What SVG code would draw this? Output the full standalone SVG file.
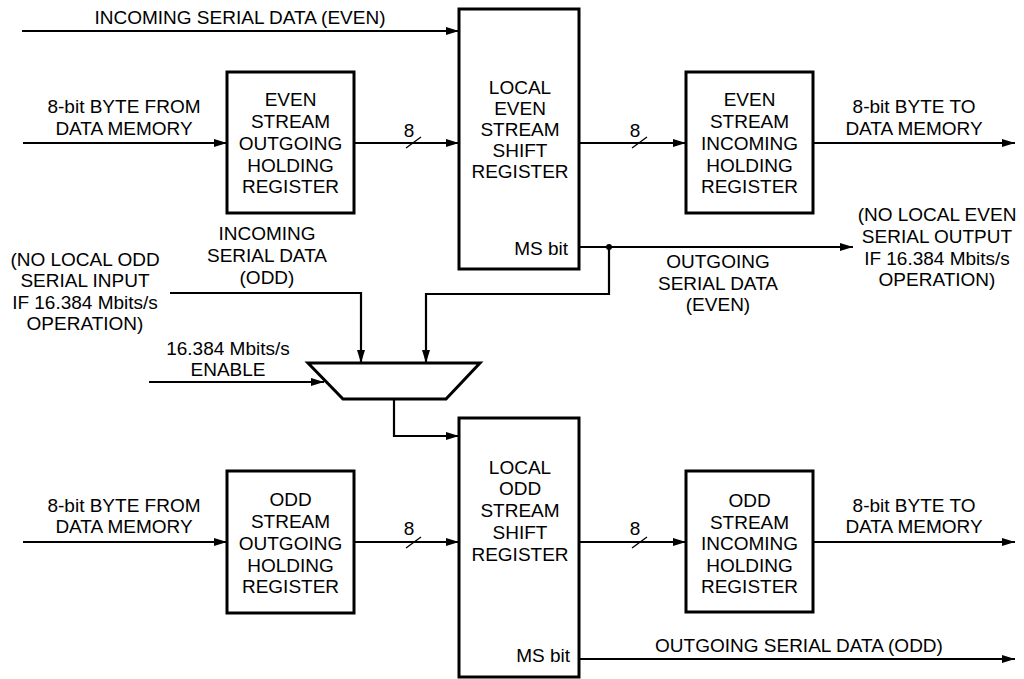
<svg xmlns="http://www.w3.org/2000/svg" width="1024" height="679" viewBox="0 0 1024 679">
<style>
text{font-family:"Liberation Sans",Arial,sans-serif;font-size:19px;fill:#000;text-anchor:middle}
.r{text-anchor:end}
.box{fill:#fff;stroke:#000;stroke-width:3}
.w{fill:none;stroke:#000;stroke-width:2.2}
.a{marker-end:url(#ah)}
.s{fill:none;stroke:#000;stroke-width:1.3}
</style>
<defs>
<marker id="ah" markerUnits="userSpaceOnUse" markerWidth="14" markerHeight="9" refX="13" refY="4" orient="auto">
<path d="M0,0 L13,4 L0,8 z" fill="#000"/>
</marker>
</defs>
<rect width="1024" height="679" fill="#fff"/>

<g id="connectors">
<path class="w a" d="M22,31 H459"/>
<path class="w a" d="M23,143 H227"/>
<path class="w a" d="M354,143 H459"/>
<path class="w a" d="M579,143 H686"/>
<path class="w a" d="M813,143 H1015"/>
<path class="w a" d="M579,247 H853"/>
<path class="w a" d="M609,247 V294 H426 V363"/>
<circle cx="609" cy="247" r="3" fill="#000"/>
<path class="w a" d="M170,293 H361 V363"/>
<path class="w a" d="M149,382 H324"/>
<path class="w a" d="M394,399 V436 H459"/>
<path class="w a" d="M23,542 H227"/>
<path class="w a" d="M354,542 H459"/>
<path class="w a" d="M579,542 H686"/>
<path class="w a" d="M813,542 H1015"/>
<path class="w a" d="M579,659 H1015"/>
<path class="s" d="M406,148 L421,137"/>
<path class="s" d="M632,148 L647,137"/>
<path class="s" d="M406,548 L421,537"/>
<path class="s" d="M632,548 L647,537"/>
<text x="409" y="137">8</text>
<text x="635" y="137">8</text>
<text x="409" y="535">8</text>
<text x="635" y="535">8</text>
<text x="240" y="24">INCOMING SERIAL DATA (EVEN)</text>
<text x="124" y="113">8-bit BYTE FROM</text>
<text x="124" y="135">DATA MEMORY</text>
<text x="914" y="113">8-bit BYTE TO</text>
<text x="914" y="135">DATA MEMORY</text>
<text x="937" y="221">(NO LOCAL EVEN</text>
<text x="937" y="243">SERIAL OUTPUT</text>
<text x="937" y="265">IF 16.384 Mbits/s</text>
<text x="937" y="286">OPERATION)</text>
<text x="718" y="268">OUTGOING</text>
<text x="718" y="290">SERIAL DATA</text>
<text x="718" y="311">(EVEN)</text>
<text x="267" y="240">INCOMING</text>
<text x="267" y="262">SERIAL DATA</text>
<text x="267" y="284">(ODD)</text>
<text x="85" y="266">(NO LOCAL ODD</text>
<text x="85" y="287">SERIAL INPUT</text>
<text x="85" y="309">IF 16.384 Mbits/s</text>
<text x="85" y="330">OPERATION)</text>
<text x="228" y="355">16.384 Mbits/s</text>
<text x="228" y="376">ENABLE</text>
<text x="124" y="512">8-bit BYTE FROM</text>
<text x="124" y="533">DATA MEMORY</text>
<text x="914" y="512">8-bit BYTE TO</text>
<text x="914" y="533">DATA MEMORY</text>
<text x="799" y="652">OUTGOING SERIAL DATA (ODD)</text>
</g>

<g id="even-outgoing">
<rect class="box" x="227" y="72" width="127" height="141"/>
<text x="290.5" y="106">EVEN</text>
<text x="290.5" y="128">STREAM</text>
<text x="290.5" y="150">OUTGOING</text>
<text x="290.5" y="172">HOLDING</text>
<text x="290.5" y="193">REGISTER</text>
</g>

<g id="even-shift">
<rect class="box" x="459" y="9" width="120" height="260"/>
<text x="520" y="94">LOCAL</text>
<text x="520" y="115">EVEN</text>
<text x="520" y="136">STREAM</text>
<text x="520" y="157">SHIFT</text>
<text x="520" y="178">REGISTER</text>
<text class="r" x="568" y="255">MS bit</text>
</g>

<g id="even-incoming">
<rect class="box" x="686" y="72" width="127" height="141"/>
<text x="749.5" y="106">EVEN</text>
<text x="749.5" y="128">STREAM</text>
<text x="749.5" y="150">INCOMING</text>
<text x="749.5" y="172">HOLDING</text>
<text x="749.5" y="193">REGISTER</text>
</g>

<g id="mux">
<polygon class="box" points="308,363 480,363 446,399 343,399"/>
</g>

<g id="odd-outgoing">
<rect class="box" x="227" y="471" width="127" height="142"/>
<text x="290.5" y="506">ODD</text>
<text x="290.5" y="528">STREAM</text>
<text x="290.5" y="550">OUTGOING</text>
<text x="290.5" y="572">HOLDING</text>
<text x="290.5" y="593">REGISTER</text>
</g>

<g id="odd-shift">
<rect class="box" x="459" y="418" width="120" height="259"/>
<text x="520" y="474">LOCAL</text>
<text x="520" y="495">ODD</text>
<text x="520" y="517">STREAM</text>
<text x="520" y="539">SHIFT</text>
<text x="520" y="561">REGISTER</text>
<text class="r" x="570" y="662">MS bit</text>
</g>

<g id="odd-incoming">
<rect class="box" x="686" y="471" width="127" height="141"/>
<text x="749.5" y="507">ODD</text>
<text x="749.5" y="529">STREAM</text>
<text x="749.5" y="550">INCOMING</text>
<text x="749.5" y="572">HOLDING</text>
<text x="749.5" y="593">REGISTER</text>
</g>
</svg>
